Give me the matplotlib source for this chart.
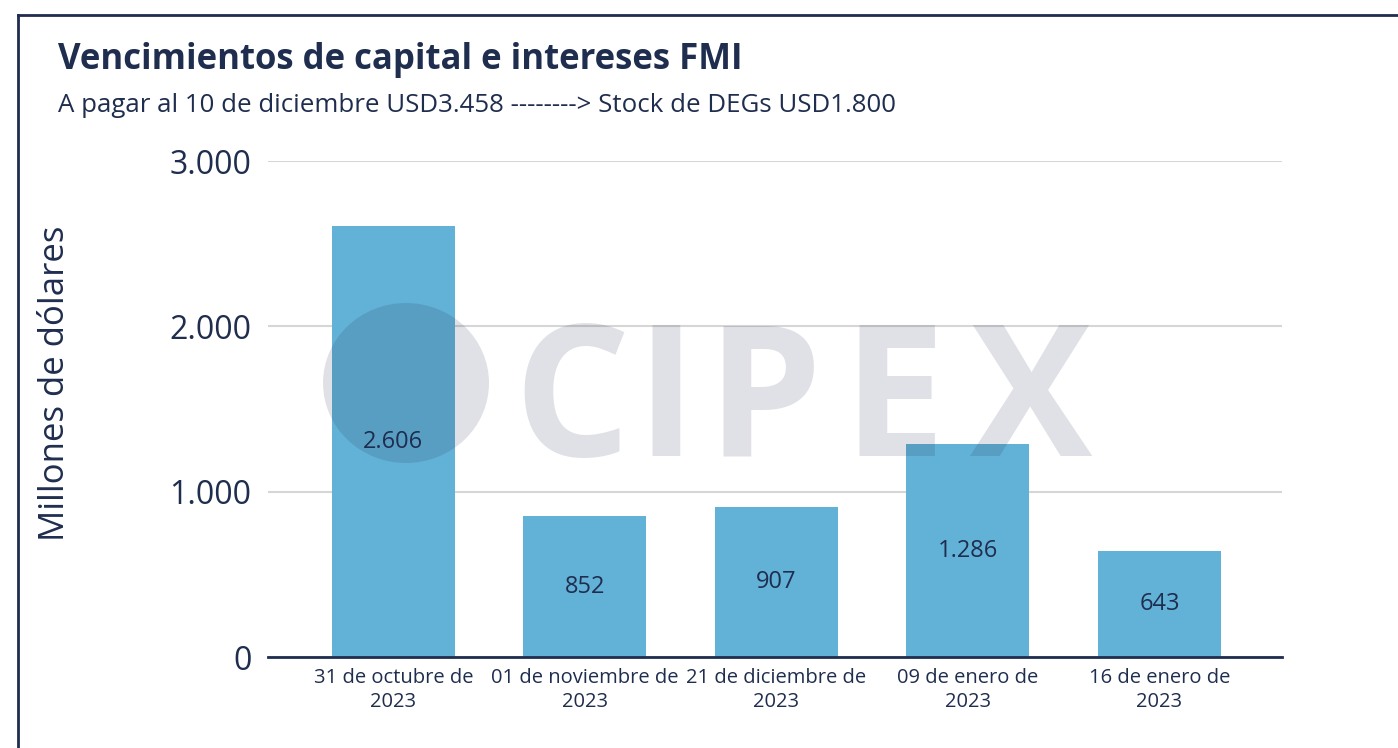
import matplotlib.pyplot as plt
from matplotlib.patches import Ellipse
from matplotlib.lines import Line2D

# datos
fechas = ['31 de octubre de\n2023', '01 de noviembre de\n2023', '21 de diciembre de\n2023',
          '09 de enero de\n2023', '16 de enero de\n2023']
montos = [2606, 852, 907, 1286, 643]
etiquetas = ['2.606', '852', '907', '1.286', '643']
yticks = [0, 1000, 2000, 3000]
yticklabels = ['0', '1.000', '2.000', '3.000']

navy = '#1f2d4e'
azul = '#62b1d7'
W, H = 1398, 748

plt.rcParams['font.family'] = ['Open Sans', 'DejaVu Sans']

fig = plt.figure(figsize=(W / 100, H / 100), dpi=100)
ax = fig.add_axes([268 / W, (H - 657) / H, (1282 - 268) / W, (657 - 161) / H])

x = list(range(len(montos)))
ax.bar(x, montos, width=0.642, color=azul, zorder=2)
for xi, m, t in zip(x, montos, etiquetas):
    ax.text(xi, m / 2, t, ha='center', va='center', fontsize=17, color=navy, zorder=3)

ax.set_xlim(-0.655, 4.64)
ax.set_ylim(0, 3000)
ax.set_yticks(yticks)
ax.set_yticklabels(yticklabels, fontsize=23, color=navy)
ax.set_xticks(x)
ax.set_xticklabels(fechas, fontsize=14.5, color=navy, linespacing=1.25)
ax.tick_params(axis='y', length=0, pad=12)
ax.tick_params(axis='x', length=0, pad=8)
ax.grid(axis='y', color='#d6d6d6', linewidth=1.5, zorder=0)
for s in ['top', 'right', 'left']:
    ax.spines[s].set_visible(False)
ax.spines['bottom'].set_color(navy)
ax.spines['bottom'].set_linewidth(2)
ax.spines['bottom'].set_zorder(4)

fig.text(55 / W, 1 - 383 / H, 'Millones de dólares', rotation=90, ha='center', va='center',
         fontsize=25, color=navy)

fig.text(58 / W, 1 - 60 / H, 'Vencimientos de capital e intereses FMI', ha='left', va='center',
         fontsize=25, fontweight='bold', color=navy)
fig.text(58 / W, 1 - 106 / H, 'A pagar al 10 de diciembre USD3.458 --------> Stock de DEGs USD1.800',
         ha='left', va='center', fontsize=18.6, color=navy)

# marco
fig.add_artist(Line2D([18 / W, 18 / W], [0, 1 - 15 / H], color=navy, linewidth=2))
fig.add_artist(Line2D([18 / W, 1], [1 - 15 / H, 1 - 15 / H], color=navy, linewidth=2))

# marca de agua (logo)
fig.add_artist(Ellipse((406 / W, 1 - 383 / H), 166 / W, 160 / H, facecolor=navy, edgecolor='none',
                       linewidth=0, alpha=0.143, transform=fig.transFigure, zorder=10))
for letra, cx in zip('CIPEX', [572, 666, 764, 894, 1031]):
    fig.text(cx / W, 1 - 456 / H, letra, ha='center', va='baseline', fontsize=132, color=navy,
             fontweight='bold', alpha=0.143, zorder=10)

fig.savefig('out.png', dpi=100)
